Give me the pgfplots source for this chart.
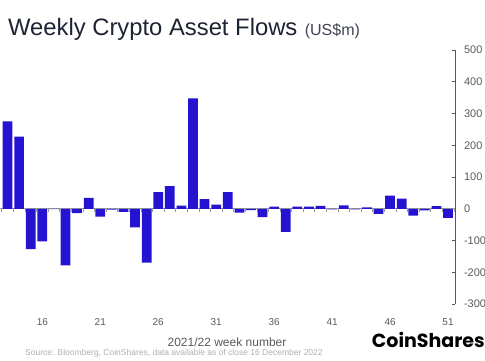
\documentclass[border=0pt]{standalone}
\usepackage{fontspec}
\setmainfont{Liberation Sans}
\newfontfamily\logofont{Poppins}
\usepackage{pgfplots}
\pgfplotsset{compat=1.18}
\definecolor{barblue}{RGB}{36,20,210}
\definecolor{titlecol}{RGB}{30,35,50}
\definecolor{axgray}{RGB}{90,90,90}
\definecolor{srcgray}{RGB}{175,175,175}
\begin{document}
\begin{tikzpicture}
\useasboundingbox (0pt,0pt) rectangle (485pt,360pt);
\begin{axis}[
  at={(0pt,56pt)}, anchor=south west,
  scale only axis, width=455pt, height=254pt,
  xmin=12.35, xmax=51.6, ymin=-300, ymax=500,
  separate axis lines,
  axis y line*=right,
  axis x line*=bottom,
  x axis line style={draw=none},
  xtick={16,21,...,51},
  xtick style={draw=none},
  xticklabel style={font=\fontsize{10}{12}\selectfont, text=axgray, yshift=-11pt},
  ytick={-300,-200,...,500},
  y axis line style={axgray, line width=0.8pt},
  ytick style={axgray, line width=0.6pt},
  tick align=inside,
  major tick length=3pt,
  yticklabel style={font=\fontsize{11}{13}\selectfont, text=axgray, xshift=5.5pt},
  /pgf/number format/assume math mode=true,
  clip=false,
]
\draw[gray!80, line width=0.6pt] (axis cs:12.35,0) -- (axis cs:51.6,0);
\pgfplotsinvokeforeach{12.5,13.5,...,51.5}{\draw[gray!80, line width=0.5pt] (axis cs:#1,0) -- ++(0pt,-3pt);}
\addplot[ybar, fill=barblue, draw=none, bar width=0.84] coordinates {
(13,275) (14,227) (15,-127) (16,-103) (17,-1) (18,-178) (19,-14) (20,34)
(21,-25) (22,-3) (23,-10) (24,-59) (25,-170) (26,52) (27,71) (28,10)
(29,348) (30,30) (31,13) (32,52) (33,-12) (34,-4) (35,-26) (36,7)
(37,-73) (38,7) (39,7) (40,9) (41,-2) (42,11) (43,-2) (44,4)
(45,-16) (46,41) (47,32) (48,-22) (49,-5) (50,8) (51,-29)
};
\end{axis}
\node[anchor=base west, inner sep=0pt, text=titlecol, font=\fontsize{23.8}{28}\selectfont] (t) at (8pt,325pt) {Weekly Crypto Asset Flows};
\node[anchor=base west, inner sep=0pt, text=titlecol!85, font=\fontsize{16}{19}\selectfont] at ([xshift=7pt]t.base east) {(US\$m)};
\node[anchor=center, inner sep=0pt, text=axgray, font=\fontsize{12}{14}\selectfont] at (227pt,18pt) {2021/22 week number};
\node[anchor=west, inner sep=0pt, text=srcgray, font=\fontsize{8.5}{10}\selectfont] at (25pt,7pt) {Source: Bloomberg, CoinShares, data available as of close 16 December 2022};
\node[anchor=east, inner sep=0pt, text=black, font=\logofont\bfseries\fontsize{19}{22}\selectfont] at (485pt,20pt) {CoinShares};
\end{tikzpicture}
\end{document}
